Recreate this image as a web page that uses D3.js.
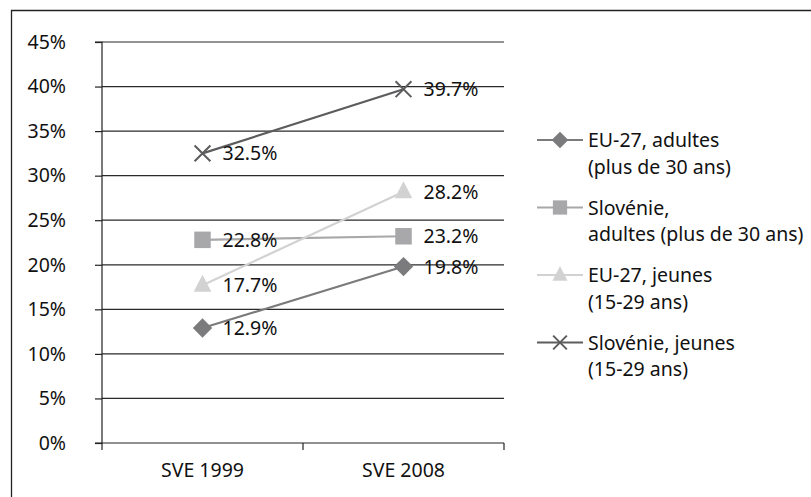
<!DOCTYPE html>
<html><head><meta charset="utf-8">
<script src="https://cdn.jsdelivr.net/npm/d3@7"></script>
<style>body{margin:0;background:#fff;} svg{display:block;font-family:"Noto Sans",sans-serif;}</style>
</head><body>
<svg id="c" width="811" height="497"></svg>
<script>
const categories = ["SVE 1999", "SVE 2008"];
const yTicks = [0, 5, 10, 15, 20, 25, 30, 35, 40, 45];
const seriesNames = [["EU-27, adultes", "(plus de 30 ans)"], ["Slovénie,", "adultes (plus de 30 ans)"], ["EU-27, jeunes", "(15-29 ans)"], ["Slovénie, jeunes", "(15-29 ans)"]];
const euAdults = [12.9, 19.8];
const sloAdults = [22.8, 23.2];
const euYouth = [17.7, 28.2];
const sloYouth = [32.5, 39.7];
const seriesValues = [euAdults, sloAdults, euYouth, sloYouth];
const colors = ["#7b7b7d", "#a8a8aa", "#d2d2d2", "#5c5c5e"];
const symbols = ["diamond", "square", "triangle", "cross"];
const FS = 19.5;

const svg = d3.select("#c");
svg.append("path").attr("d", "M11.5,497V10.5H811").attr("fill", "none").attr("stroke", "#222").attr("stroke-width", 1.3);

const x0 = 102, x1 = 504, yTop = 42, yBot = 443;
const x = d3.scaleBand().domain(categories).range([x0, x1]);
const y = d3.scaleLinear().domain([0, 45]).range([yBot, yTop]);

const g = svg.append("g");
g.selectAll(".grid").data(yTicks.filter(d => d > 0)).join("line")
  .attr("x1", x0).attr("x2", x1).attr("y1", d => y(d)).attr("y2", d => y(d))
  .attr("stroke", "#2a2a2a").attr("stroke-width", 1.2);

const yAxis = d3.axisLeft(y).tickValues(yTicks).tickFormat(d => d + "%").tickSize(7).tickPadding(29);
const ya = g.append("g").attr("transform", `translate(${x0},0)`).call(yAxis);
ya.select(".domain").attr("stroke", "#222").attr("stroke-width", 1.2).attr("d", `M-7,${yTop}H0V${yBot}H-7`);
ya.selectAll(".tick line").attr("stroke", "#222").attr("stroke-width", 1.2);
ya.selectAll(".tick text").attr("font-size", FS).attr("fill", "#111").attr("font-family", "Noto Sans");

const xAxis = d3.axisBottom(x).tickSize(0).tickPadding(20);
const xa = g.append("g").attr("transform", `translate(0,${yBot})`).call(xAxis);
xa.select(".domain").attr("stroke", "#222").attr("stroke-width", 1.2).attr("d", `M${x0},0H${x1}`);
xa.selectAll(".tick text").attr("font-size", FS).attr("fill", "#111").attr("font-family", "Noto Sans");
xa.selectAll(".bt").data([x0, x0 + x.bandwidth(), x1]).join("line").attr("class", "bt")
  .attr("x1", d => d).attr("x2", d => d).attr("y1", 0).attr("y2", 7).attr("stroke", "#222").attr("stroke-width", 1.2);

function marker(sel, type, color, size) {
  const s = size;
  if (type === "diamond") sel.append("path").attr("d", `M0,${-s * 0.88}L${s * 0.88},0L0,${s * 0.88}L${-s * 0.88},0Z`).attr("fill", color);
  else if (type === "square") sel.append("rect").attr("x", -s * 0.75).attr("y", -s * 0.75).attr("width", s * 1.5).attr("height", s * 1.5).attr("fill", color);
  else if (type === "triangle") sel.append("path").attr("d", `M0,${-s * 0.95}L${s * 0.8},${s * 0.6}L${-s * 0.8},${s * 0.6}Z`).attr("fill", color);
  else sel.append("path").attr("d", `M${-s * 0.72},${-s * 0.72}L${s * 0.72},${s * 0.72}M${s * 0.72},${-s * 0.72}L${-s * 0.72},${s * 0.72}`).attr("stroke", color).attr("stroke-width", 2);
}

const line = d3.line().x((d, i) => x(categories[i]) + x.bandwidth() / 2).y(d => y(d));
seriesValues.forEach((vals, si) => {
  g.append("path").datum(vals).attr("d", line).attr("fill", "none").attr("stroke", colors[si]).attr("stroke-width", 2.2);
});
seriesValues.forEach((vals, si) => {
  vals.forEach((v, i) => {
    const cx = x(categories[i]) + x.bandwidth() / 2, cy = y(v);
    const m = g.append("g").attr("transform", `translate(${cx},${cy})`);
    marker(m, symbols[si], colors[si], 11);
  });
});
seriesValues.forEach((vals, si) => {
  vals.forEach((v, i) => {
    const cx = x(categories[i]) + x.bandwidth() / 2, cy = y(v);
    g.append("text").attr("x", cx + 20).attr("y", cy).attr("dy", "0.36em")
      .attr("font-size", FS).attr("fill", "#111").text(v.toFixed(1) + "%");
  });
});

const lg = svg.append("g");
seriesNames.forEach((nm, si) => {
  const ly = 140 + si * 67.5;
  lg.append("line").attr("x1", 537).attr("x2", 583).attr("y1", ly).attr("y2", ly).attr("stroke", colors[si]).attr("stroke-width", 2.2);
  const m = lg.append("g").attr("transform", `translate(560,${ly})`);
  marker(m, symbols[si], colors[si], 9.5);
  nm.forEach((t, k) => {
    lg.append("text").attr("x", 588).attr("y", ly + k * 26.5).attr("dy", "0.36em")
      .attr("font-size", FS).attr("fill", "#111").text(t);
  });
});
</script>
</body></html>
